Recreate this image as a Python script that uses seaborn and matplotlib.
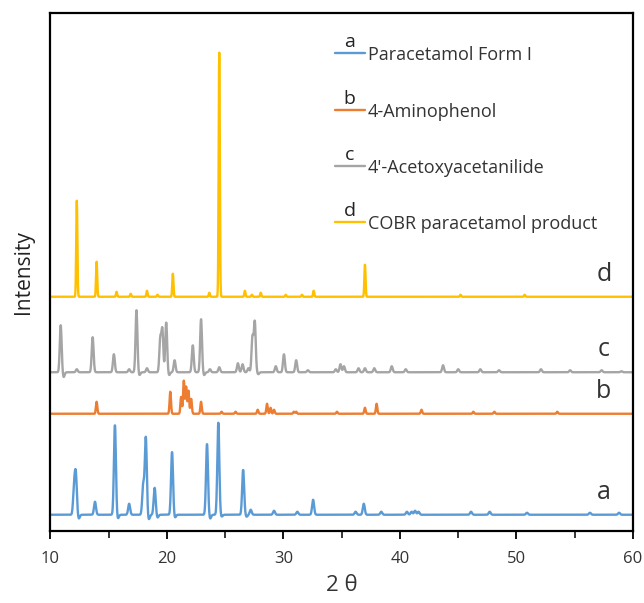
import numpy as np
import pandas as pd
import matplotlib
matplotlib.use('Agg')
import matplotlib.pyplot as plt
import seaborn as sns

# peak lists: 2theta position and height (plot units)
a_pos = [12.05, 12.2, 12.45, 13.84, 15.55, 15.8, 16.77, 17.98, 18.2, 18.45, 18.96, 19.2,
         20.45, 20.7, 23.45, 23.72, 24.42, 24.7, 26.55, 26.85, 27.2, 29.2,
         31.2, 32.55, 36.2, 36.9, 38.4, 40.6, 41.0, 41.3, 41.6, 46.1, 47.7, 50.9, 56.3, 58.8]
a_h = [27, 38, -4, 13, 90, -4, 11, 30, 77, -5, 27, -3,
       63, -3, 71, -4, 92, -2, 45, -2, 5, 4,
       3, 15, 3, 11, 3, 3, 3, 4, 3, 3, 3, 2, 2, 2]

b_pos = [13.98, 20.3, 21.23, 21.46, 21.66, 21.86, 22.09, 22.94, 24.7, 25.9, 27.8, 28.6,
         28.9, 29.2, 30.9, 31.1, 34.6, 37.0, 38.0, 41.85, 46.3, 48.1, 53.5]
b_h = [12, 22, 17, 33, 27, 23, 15, 12, 2, 2, 4, 10,
       6, 4, 2, 2, 2, 6, 10, 4, 2, 2, 2]

c_pos = [10.9, 11.15, 12.28, 13.64, 15.46, 16.77, 17.4, 17.65, 18.3, 19.44, 19.62, 19.95, 20.2,
         20.67, 22.23, 22.94, 23.2, 23.7, 24.5, 26.1, 26.5, 27.0, 27.35, 27.55, 27.85,
         29.35, 30.05, 31.1, 32.1, 34.5, 34.9, 35.2, 36.45, 37.0, 37.8, 39.3, 40.5,
         43.7, 45.0, 46.9, 48.5, 52.1, 54.6, 57.3, 59.0]
c_h = [47, -5, 3, 35, 18, 3, 62, -3, 4, 33, 42, 50, -3,
       12, 27, 53, -3, 3, 5, 9, 8, 4, 35, 50, -2,
       6, 18, 12, 2, 3, 8, 6, 4, 4, 4, 6, 3,
       7, 3, 3, 2, 3, 2, 2, 1]

d_pos = [12.28, 13.98, 15.69, 16.9, 18.3, 19.2, 20.52, 23.65, 24.5, 26.7, 27.3, 28.06,
         30.2, 31.6, 32.6, 37.0, 45.2, 50.7]
d_h = [96, 35, 5, 3, 6, 2, 23, 4, 244, 6, 2, 4,
       2, 2, 6, 32, 2, 2]

offsets = [16.5, 117.5, 159, 234.5]
widths = [0.085, 0.06, 0.08, 0.05]
letters = ['a', 'b', 'c', 'd']
names = ['Paracetamol Form I', '4-Aminophenol', "4'-Acetoxyacetanilide", 'COBR paracetamol product']
colors = ['#5B9BD5', '#ED7D31', '#A5A5A5', '#FFC000']

two_theta = np.arange(10, 60.001, 0.02)


def pattern(pos, h, off, w):
    y = np.full_like(two_theta, off)
    for p, hh in zip(pos, h):
        y += hh * np.exp(-0.5 * ((two_theta - p) / w) ** 2)
    return y


peaks = [(a_pos, a_h), (b_pos, b_h), (c_pos, c_h), (d_pos, d_h)]
frames = []
for (pos, h), off, w, name in zip(peaks, offsets, widths, names):
    frames.append(pd.DataFrame({'2theta': two_theta, 'I': pattern(pos, h, off, w), 'sample': name}))
df = pd.concat(frames, ignore_index=True)

sns.set_style('white')
plt.rcParams['font.family'] = ['Open Sans', 'DejaVu Sans']

fig = plt.figure(figsize=(6.44, 6.03), dpi=100)
ax = fig.add_axes([0.078, 0.119, 0.905, 0.859])

for name, col in zip(names, colors):
    sub = df[df['sample'] == name]
    sns.lineplot(data=sub, x='2theta', y='I', color=col, lw=1.7, ax=ax, sort=False, estimator=None)

ax.set_xlim(10, 60)
ax.set_ylim(0, 518)
ax.set_yticks([])
ax.set_xticks(np.arange(10, 61, 10))
ax.set_xticks(np.arange(15, 60, 10), minor=True)
ax.tick_params(axis='x', which='major', direction='out', length=6, width=1.3, labelsize=12,
               bottom=True, colors='black', labelcolor='#333333', pad=8)
ax.tick_params(axis='x', which='minor', direction='out', length=5, width=1.3, bottom=True)
for s in ax.spines.values():
    s.set_linewidth(1.6)
    s.set_color('black')
ax.set_xlabel('2 θ', fontsize=16, labelpad=6, color='#333333')
ax.set_ylabel('Intensity', fontsize=15, labelpad=12, color='#222222')

# letters next to each pattern
for off, let in zip(offsets, letters):
    ax.text(57.5, off + 10, let, fontsize=18, ha='center', va='bottom', color='#333333')

# hand-made legend
leg_y = [0.923, 0.813, 0.705, 0.597]
for yy, let, name, col in zip(leg_y, letters, names, colors):
    ax.plot([0.488, 0.54], [yy, yy], color=col, lw=1.7, transform=ax.transAxes)
    ax.text(0.514, yy + 0.004, let, fontsize=14, ha='center', va='bottom',
            transform=ax.transAxes, color='#222222')
    ax.text(0.545, yy - 0.013, name, fontsize=13, ha='left', va='baseline',
            transform=ax.transAxes, color='#333333')

fig.savefig('out.png', dpi=100)
